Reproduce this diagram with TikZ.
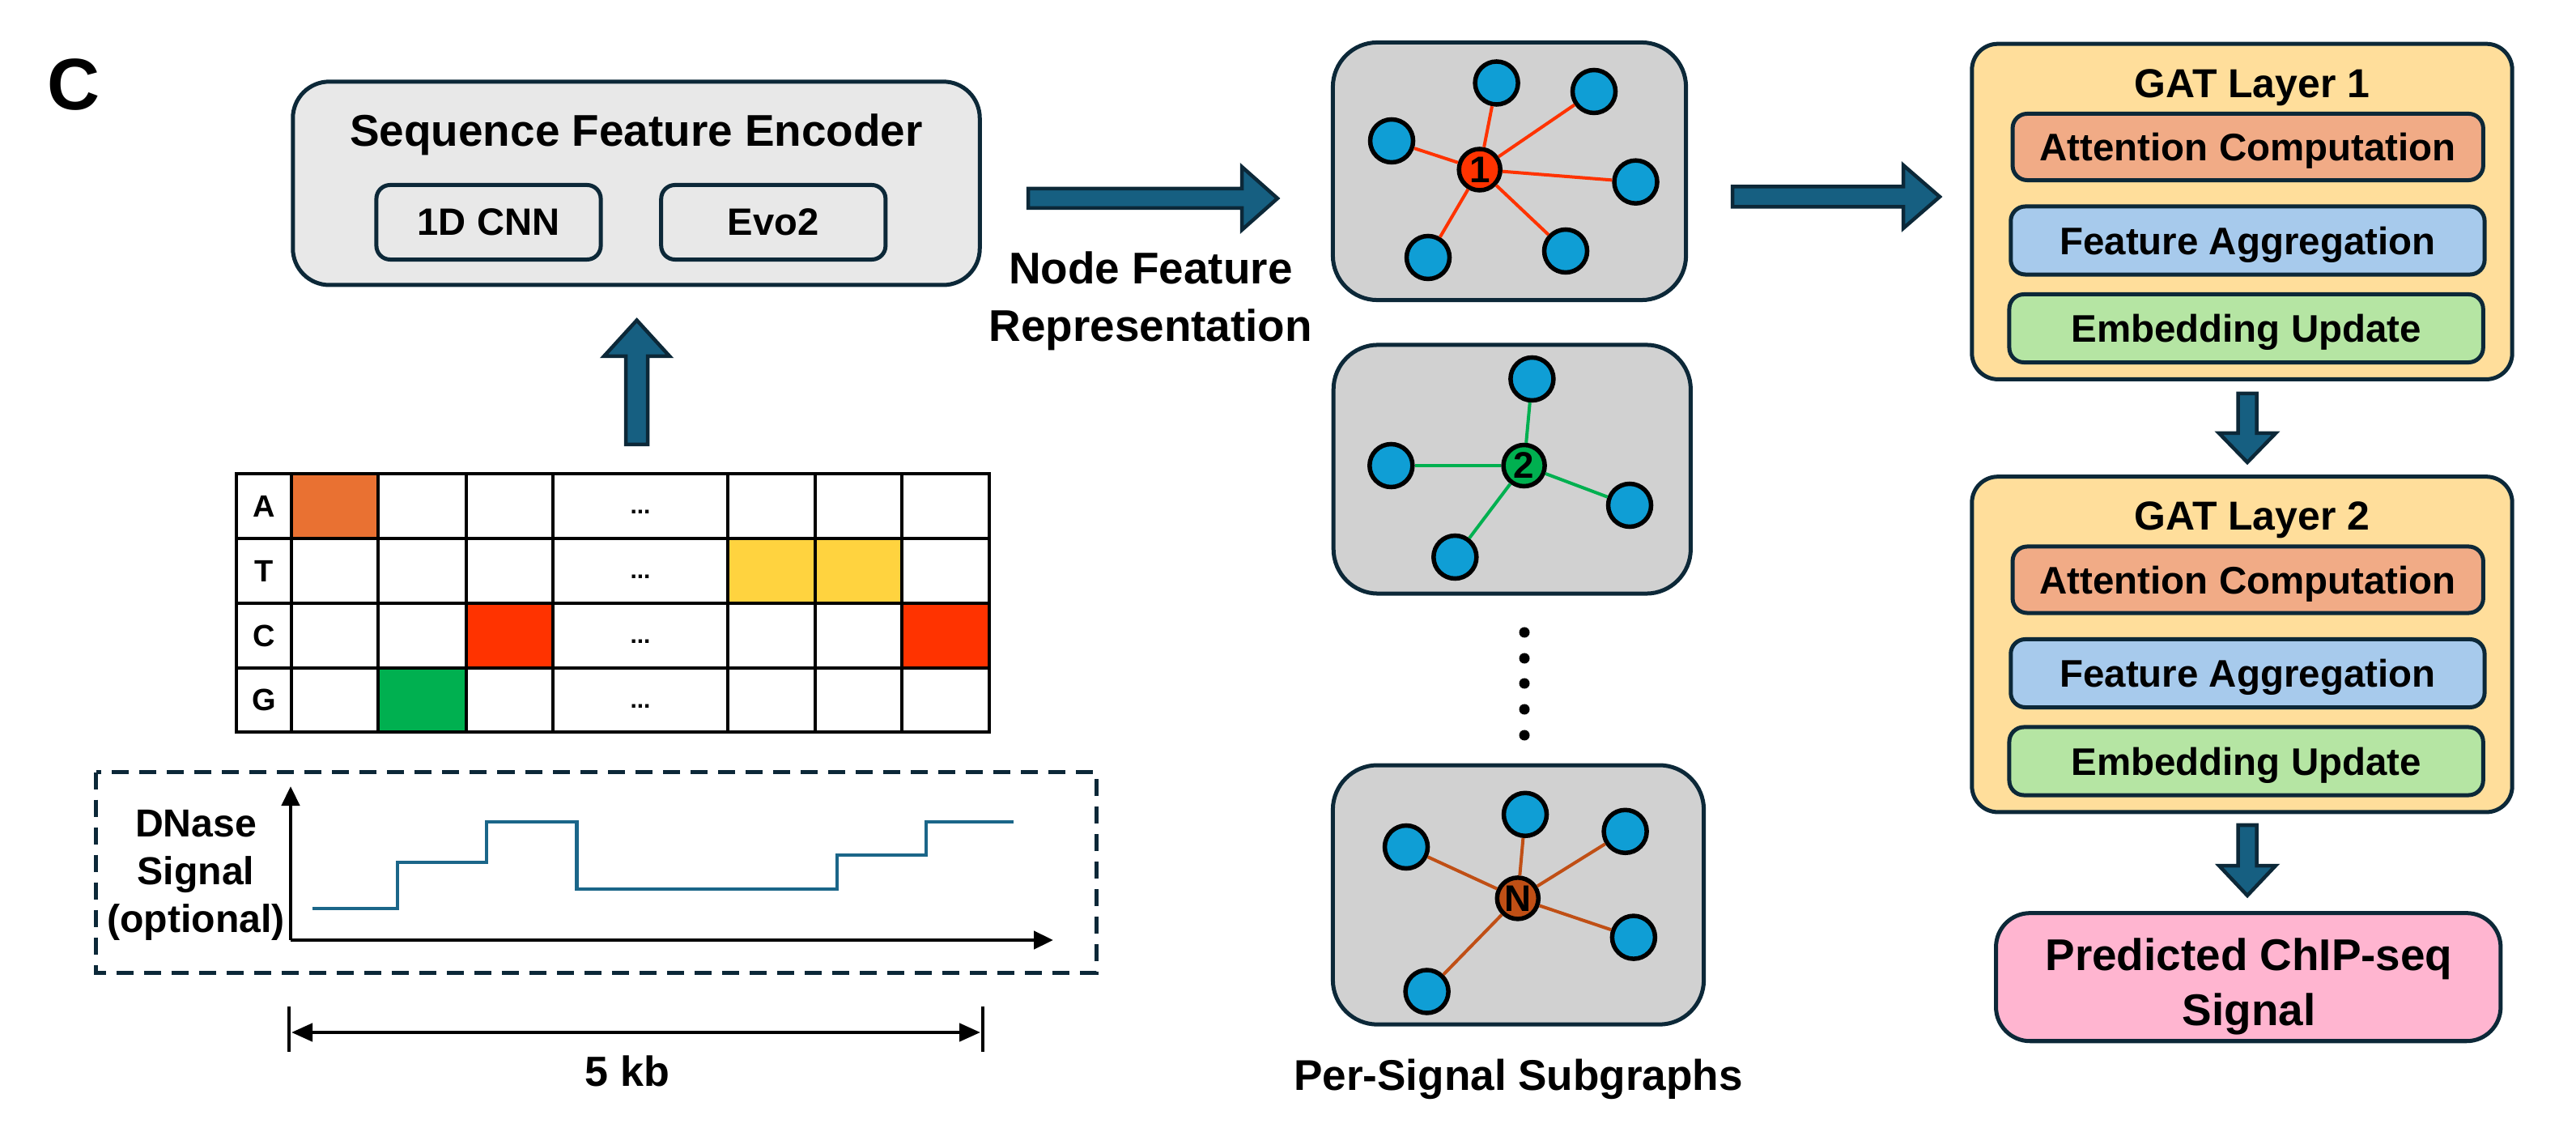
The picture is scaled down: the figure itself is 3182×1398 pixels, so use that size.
\documentclass[tikz,border=0pt]{standalone}
\usepackage{fontspec}
\setmainfont{Liberation Sans}
\usetikzlibrary{calc,arrows.meta}

\definecolor{navy}{HTML}{0C2838}
\definecolor{arrfill}{HTML}{165F81}
\definecolor{sfegray}{HTML}{E8E8E8}
\definecolor{subgray}{HTML}{D1D1D1}
\definecolor{gatfill}{HTML}{FFDE9B}
\definecolor{attfill}{HTML}{F1AB86}
\definecolor{featfill}{HTML}{A7CAEC}
\definecolor{embfill}{HTML}{B5E5A3}
\definecolor{predfill}{HTML}{FFB5D0}
\definecolor{nodeblue}{HTML}{0F9ED5}
\definecolor{cred}{HTML}{FF3300}
\definecolor{corange}{HTML}{E97132}
\definecolor{cyellow}{HTML}{FFD33F}
\definecolor{cgreen}{HTML}{00B050}
\definecolor{cbrown}{HTML}{C04F15}
\definecolor{sigline}{HTML}{1B6689}

% horizontal block arrow: start, tip, shaft half, head length, head half
\newcommand\myharrow[5]{\draw[blockarrow] ($(#1)+(0,-#3)$) -- ($(#2)+(-#4,-#3)$) -- ($(#2)+(-#4,-#5)$) -- (#2) -- ($(#2)+(-#4,#5)$) -- ($(#2)+(-#4,#3)$) -- ($(#1)+(0,#3)$) -- cycle;}
% vertical block arrow: start, tip, shaft half, signed head offset, head half
\newcommand\myvarrow[5]{\draw[blockarrow] ($(#1)+(-#3,0)$) -- ($(#2)+(-#3,#4)$) -- ($(#2)+(-#5,#4)$) -- (#2) -- ($(#2)+(#5,#4)$) -- ($(#2)+(#3,#4)$) -- ($(#1)+(#3,0)$) -- cycle;}

\begin{document}
\begin{tikzpicture}[x=0.01cm,y=-0.01cm,
  box/.style={draw=navy, line width=0.05cm, inner sep=0pt},
  blockarrow/.style={fill=arrfill, draw=navy, line width=0.045cm, line join=miter},
  tbig/.style={font=\fontsize{15.6pt}{20.2pt}\selectfont\bfseries, inner sep=0pt},
  tgat/.style={font=\fontsize{14.2pt}{17pt}\selectfont\bfseries, inner sep=0pt},
  tin/.style={font=\fontsize{13.5pt}{16pt}\selectfont\bfseries, text height=0.344cm, text depth=0cm},
  tcnn/.style={font=\fontsize{13.4pt}{16pt}\selectfont\bfseries},
  tlet/.style={font=\fontsize{10.8pt}{13pt}\selectfont\bfseries, inner sep=0pt},
  tdots/.style={font=\fontsize{8.5pt}{10pt}\selectfont\bfseries, inner sep=0pt},
  bnode/.style={circle, draw=black, line width=0.055cm, minimum size=0.53cm, inner sep=0pt, fill=nodeblue},
  cnode/.style={circle, draw=black, line width=0.055cm, minimum size=0.51cm, inner sep=0pt, fill=#1, font=\fontsize{13pt}{14pt}\selectfont\bfseries},
  gedge/.style={draw=#1, line width=0.04cm},
  gline/.style={draw=black, line width=0.035cm},
  axisline/.style={draw=black, line width=0.045cm},
]
\fill[white] (0,0) rectangle (3182,1398);
\useasboundingbox (0,0) rectangle (3182,1398);

% label C
\node[font=\fontsize{25.6pt}{28pt}\selectfont\bfseries, anchor=base, inner sep=0pt] (lblC) at (91.5,135.5) {C};

% Sequence feature encoder
\node[box, fill=sfegray, rounded corners=0.45cm, minimum width=8.48cm, minimum height=2.51cm] (sfe) at (786,226.4) {};
\node[tbig, anchor=base] (sfetitle) at (786,181) {Sequence Feature Encoder};
\node[box, fill=sfegray, rounded corners=0.17cm, minimum width=2.77cm, minimum height=0.92cm, tcnn] (cnn) at (603.5,274.5) {1D CNN};
\node[box, fill=sfegray, rounded corners=0.17cm, minimum width=2.77cm, minimum height=0.92cm, tcnn] (evo) at (955.3,274.5) {Evo2};

% up arrow
\coordinate (upS) at (786.6,549);
\coordinate (upE) at (786.6,395.5);
\myvarrow{upS}{upE}{13.4}{44.5}{40.6}

% sequence grid
\fill[corange] (360,585) rectangle (467,665);
\fill[cyellow] (899,665) rectangle (1114,745);
\fill[cred] (576,745) rectangle (683,825);
\fill[cred] (1114,745) rectangle (1222,825);
\fill[cgreen] (467,825) rectangle (576,904);
\draw[gline] (292,585) rectangle (1222,904);
\foreach \yy in {665,745,825} \draw[gline] (292,\yy) -- (1222,\yy);
\foreach \xx in {360,467,576,683,899,1007,1114} \draw[gline] (\xx,585) -- (\xx,904);
\node[tlet] (lA) at (326,625) {A};
\node[tlet] (lT) at (326,705) {T};
\node[tlet] (lC) at (326,785) {C};
\node[tlet] (lG) at (326,864.5) {G};
\node[tdots, anchor=base] (d1) at (791,635) {...};
\node[tdots, anchor=base] (d2) at (791,715) {...};
\node[tdots, anchor=base] (d3) at (791,795) {...};
\node[tdots, anchor=base] (d4) at (791,874.5) {...};

% DNase panel
\draw[draw=navy, line width=0.05cm, dash pattern=on 0.21cm off 0.13cm] (118.8,953.6) rectangle (1354.5,1201);
\node[font=\fontsize{13.7pt}{16.8pt}\selectfont\bfseries, align=center, inner sep=0pt] (dnase) at (242,1081) {DNase\\Signal\\(optional)};
\coordinate (orig) at (359,1161);
\coordinate (ytip) at (359,971);
\coordinate (xtip) at (1301,1161);
\draw[axisline, -{Triangle[length=0.24cm,width=0.22cm]}] (orig) -- (ytip);
\draw[axisline, -{Triangle[length=0.24cm,width=0.22cm]}] (orig) -- (xtip);
\draw[sigline, line width=0.045cm] (385.7,1122) -| (491,1065) -| (601,1015) -| (712.5,1098) -| (1034,1056) -| (1143.8,1015) -- (1251.8,1015);

% 5 kb
\coordinate (kbL) at (357,1275);
\coordinate (kbR) at (1214,1275);
\draw[axisline] ($(kbL)+(0,-32)$) -- ($(kbL)+(0,24)$);
\draw[axisline] ($(kbR)+(0,-32)$) -- ($(kbR)+(0,24)$);
\draw[axisline, {Triangle[length=0.26cm,width=0.22cm]}-{Triangle[length=0.26cm,width=0.22cm]}] ($(kbL)+(3,0)$) -- ($(kbR)+(-3,0)$);
\node[font=\fontsize{14.8pt}{17pt}\selectfont\bfseries, anchor=base, inner sep=0pt] (kb) at (775,1341) {5 kb};

% arrow 1 + label
\coordinate (a1s) at (1270,245);
\coordinate (a1e) at (1578,245);
\myharrow{a1s}{a1e}{12}{44}{39}
\node[tbig, align=center] (nfr) at (1421.3,372) {Node Feature\\Representation};

% subgraph boxes
\node[box, fill=subgray, rounded corners=0.55cm, minimum width=4.36cm, minimum height=3.18cm] (sg1) at (1864.5,211.5) {};
\node[box, fill=subgray, rounded corners=0.55cm, minimum width=4.41cm, minimum height=3.07cm] (sg2) at (1867.8,579.5) {};
\node[box, fill=subgray, rounded corners=0.55cm, minimum width=4.58cm, minimum height=3.20cm] (sg3) at (1875.5,1105.1) {};

% subgraph 1
\node[cnode=cred] (c1) at (1827.7,209.5) {1};
\node[bnode] (b11) at (1848.6,102.5) {};
\node[bnode] (b12) at (1969,113) {};
\node[bnode] (b13) at (1719,174) {};
\node[bnode] (b14) at (2020.5,224.7) {};
\node[bnode] (b15) at (1764,318) {};
\node[bnode] (b16) at (1934,310) {};
\foreach \b in {b11,b12,b13,b14,b15,b16} \draw[gedge=cred] (c1) -- (\b);

% subgraph 2
\node[cnode=cgreen] (c2) at (1882.6,575) {2};
\node[bnode] (b21) at (1892.4,468) {};
\node[bnode] (b22) at (1718.3,575) {};
\node[bnode] (b23) at (2013,624) {};
\node[bnode] (b24) at (1797.3,688) {};
\foreach \b in {b21,b22,b23,b24} \draw[gedge=cgreen] (c2) -- (\b);

% dots
\foreach \yy in {781,813,844,876,908} \fill (1883,\yy) circle[radius=0.065cm];

% subgraph N
\node[cnode=cbrown] (cN) at (1874.8,1109.4) {N};
\node[bnode] (b31) at (1884,1005.8) {};
\node[bnode] (b32) at (1737,1046) {};
\node[bnode] (b33) at (2007.6,1026.8) {};
\node[bnode] (b34) at (2017.9,1157.6) {};
\node[bnode] (b35) at (1762.6,1224.5) {};
\foreach \b in {b31,b32,b33,b34,b35} \draw[gedge=cbrown] (cN) -- (\b);

\node[font=\fontsize{15.1pt}{17pt}\selectfont\bfseries, anchor=base, inner sep=0pt] (psg) at (1875.5,1346) {Per-Signal Subgraphs};

% arrow 2
\coordinate (a2s) at (2140,243);
\coordinate (a2e) at (2396,243);
\myharrow{a2s}{a2e}{12.5}{45}{39}

% GAT layer 1
\node[box, fill=gatfill, rounded corners=0.32cm, minimum width=6.67cm, minimum height=4.14cm] (gat1) at (2769.5,261.3) {};
\node[tgat, anchor=base] (gat1t) at (2782,120.4) {GAT Layer 1};
\node[box, fill=attfill, rounded corners=0.18cm, minimum width=5.81cm, minimum height=0.82cm, tin] (att1) at (2776.7,181.5) {Attention Computation};
\node[box, fill=featfill, rounded corners=0.18cm, minimum width=5.85cm, minimum height=0.84cm, tin] (feat1) at (2776.4,297) {Feature Aggregation};
\node[box, fill=embfill, rounded corners=0.18cm, minimum width=5.85cm, minimum height=0.84cm, tin] (emb1) at (2774.6,405.5) {Embedding Update};

% arrow down 1
\coordinate (d1s) at (2776,486);
\coordinate (d1e) at (2776,571);
\myvarrow{d1s}{d1e}{11.5}{-36}{35}

% GAT layer 2
\node[box, fill=gatfill, rounded corners=0.32cm, minimum width=6.67cm, minimum height=4.14cm] (gat2) at (2769.5,795.8) {};
\node[tgat, anchor=base] (gat2t) at (2782,654.9) {GAT Layer 2};
\node[box, fill=attfill, rounded corners=0.18cm, minimum width=5.81cm, minimum height=0.82cm, tin] (att2) at (2776.7,716) {Attention Computation};
\node[box, fill=featfill, rounded corners=0.18cm, minimum width=5.85cm, minimum height=0.84cm, tin] (feat2) at (2776.4,831.5) {Feature Aggregation};
\node[box, fill=embfill, rounded corners=0.18cm, minimum width=5.85cm, minimum height=0.84cm, tin] (emb2) at (2774.6,940) {Embedding Update};

% arrow down 2
\coordinate (d2s) at (2776,1019);
\coordinate (d2e) at (2776,1106);
\myvarrow{d2s}{d2e}{11.5}{-37}{35}

% prediction
\node[box, fill=predfill, rounded corners=0.42cm, minimum width=6.23cm, minimum height=1.58cm] (pred) at (2777.2,1206.7) {};
\node[font=\fontsize{15.6pt}{19.1pt}\selectfont\bfseries, align=center, inner sep=0pt] (predt) at (2778,1218.4) {Predicted ChIP-seq\\Signal};
\end{tikzpicture}
\end{document}
